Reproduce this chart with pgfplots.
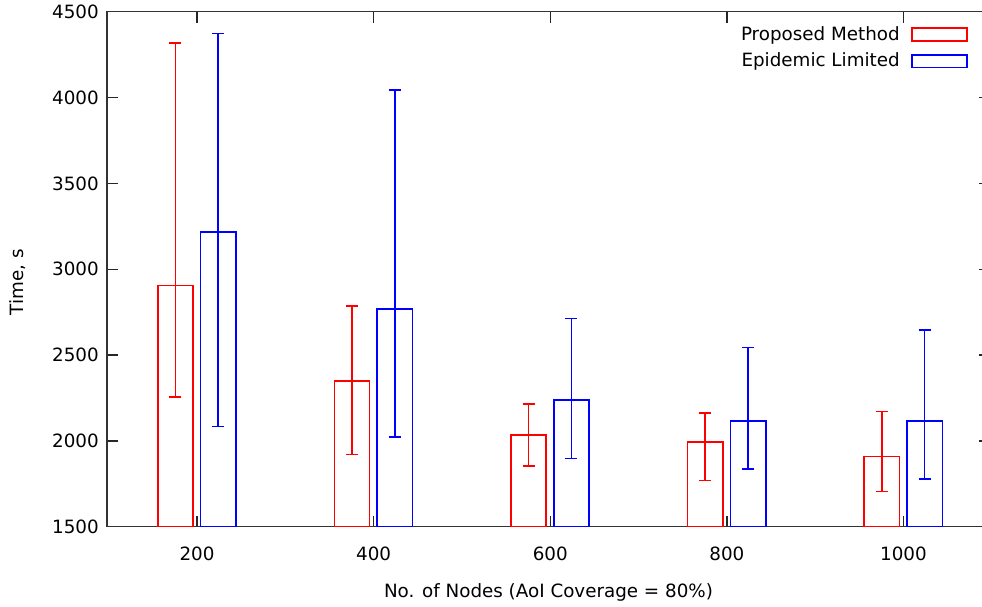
\documentclass[border=0pt]{standalone}
\usepackage{pgfplots}
\pgfplotsset{compat=1.18}
\usepackage{pgfplotstable}
\usepackage{fontspec}
\setmainfont{DejaVu Sans}
\pgfplotstableread{
x y ep em
200 2906 1410 651
400 2350 435 430
600 2035 180 180
800 1995 167 227
1000 1910 262 205
}\redtab
\pgfplotstableread{
x y ep em
200 3216 1156 1133
400 2768 1277 746
600 2238 474 341
800 2115 428 278
1000 2115 531 336
}\bluetab
\newcommand\fnt{\fontsize{18.3bp}{22bp}\selectfont}
\begin{document}
\fnt
\begin{tikzpicture}
\path[use as bounding box] (-107bp,-80.3bp) rectangle (875bp,526.7bp);
\begin{axis}[
  at={(0,0)}, anchor=south west,
  scale only axis, width=883bp, height=515bp,
  xmin=98, xmax=1098, ymin=1500, ymax=4500,
  xtick={200,400,600,800,1000},
  ytick={1500,2000,...,4500},
  /pgf/number format/assume math mode=true,
  /pgf/number format/1000 sep={},
  tick label style={font=\fnt},
  label style={font=\fnt},
  major tick length=11bp,
  tick align=inside,
  tick style={black!85, line width=1.3bp},
  axis line style={black!80, line width=1.4bp},
  xticklabel style={yshift=-14bp},
  yticklabel style={xshift=-2bp},
  xlabel={No. of Nodes (AoI Coverage = 80\%)},
  ylabel={Time, s},
  xlabel style={at={(axis description cs:0.5,-0.127)}, anchor=center},
  ylabel style={at={(axis description cs:-0.1014,0.475)}, anchor=center},
  legend plot pos=right,
  legend cell align=right,
  legend style={draw=none, fill=none, at={(axis description cs:0.9751,0.975)}, anchor=north east,
    inner sep=0pt, row sep=7bp, column sep=10bp, font=\fnt,
    nodes={inner sep=1.5bp}},
]
\addplot[ybar, bar width=40, bar shift=-24.5, draw=red, line width=1.6bp, fill=none, forget plot]
  table[x=x, y=y] {\redtab};
\addplot[ybar, bar width=40, bar shift=24, draw=blue, line width=1.6bp, fill=none, forget plot]
  table[x=x, y=y] {\bluetab};
\addplot[draw=none, mark=none, forget plot,
  error bars/.cd, y dir=both, y explicit,
  error bar style={draw=red, line width=1.6bp},
  error mark options={rotate=90, draw=red, mark size=6bp, line width=1.6bp},
  ] table[x expr=\thisrow{x}-24.5, y=y, y error plus=ep, y error minus=em] {\redtab};
\addplot[draw=none, mark=none, forget plot,
  error bars/.cd, y dir=both, y explicit,
  error bar style={draw=blue, line width=1.6bp},
  error mark options={rotate=90, draw=blue, mark size=6bp, line width=1.6bp},
  ] table[x expr=\thisrow{x}+24, y=y, y error plus=ep, y error minus=em] {\bluetab};
\addlegendimage{legend image code/.code={\draw[red, line width=1.6bp] (0bp,-6.3bp) rectangle (55bp,6.3bp);}}
\addlegendentry{Proposed Method}
\addlegendimage{legend image code/.code={\draw[blue, line width=1.6bp] (0bp,-6.3bp) rectangle (55bp,6.3bp);}}
\addlegendentry{Epidemic Limited}
\end{axis}
\end{tikzpicture}
\end{document}
